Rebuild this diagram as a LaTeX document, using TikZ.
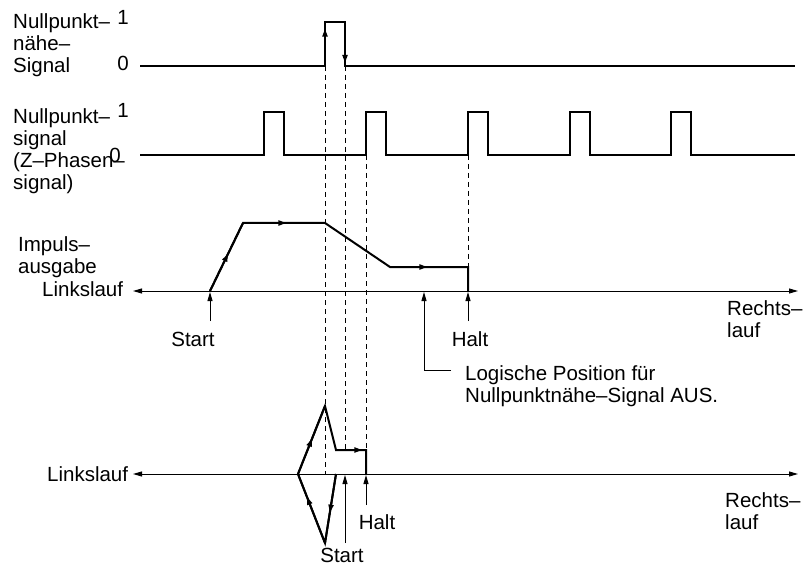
\documentclass[tikz,border=0pt]{standalone}
\usepackage{fontspec}
\setmainfont{Liberation Sans}
\usetikzlibrary{arrows.meta,decorations.markings}
\tikzset{
  sig/.style={line width=2pt},
  thin line/.style={line width=0.9pt},
  axisline/.style={thin line,{Triangle[length=9pt,width=5pt]}-{Triangle[length=9pt,width=5pt]}},
  guide/.style={thin line,dash pattern=on 5pt off 4pt},
  pointer/.style={thin line,-{Triangle[length=9pt,width=5pt]}},
  midarr/.style={decoration={markings,mark=at position #1 with {\arrow{Triangle[length=8pt,width=5pt]}}},postaction={decorate}},
  lbl/.style={font=\fontsize{20.5}{22}\selectfont,inner sep=0pt,align=left},
}
\begin{document}
\begin{tikzpicture}[x=1pt,y=-1pt]
\useasboundingbox (0,0) rectangle (804,567);
% Nullpunktnaehe-Signal
\node[lbl,anchor=north west] (nsLabel) at (13,13) {Nullpunkt--\\nähe--\\Signal};
\node[lbl,anchor=base] (nsOne) at (123,25) {1};
\node[lbl,anchor=base] (nsZero) at (123,71) {0};
\draw[sig] (140,66) -- (325,66) -- (325,22) -- (345,22) -- (345,66) -- (795,66);
\draw[sig,midarr=0.85] (325,66) -- (325,22);
\draw[sig,midarr=0.93] (345,22) -- (345,66);
% Z-Phasen-Signal
\node[lbl,anchor=north west] (zLabel) at (13,108) {Nullpunkt--\\signal\\(Z--Phasen--\\signal)};
\node[lbl,anchor=base] (zOne) at (123,118) {1};
\node[lbl,anchor=base] (zZero) at (115,163) {0};
\draw[sig] (140,155) \foreach \p in {264,366,468,570,671} { -- (\p,155) -- (\p,112) -- (\p+20,112) -- (\p+20,155) } -- (795,155);
% Impulsausgabe
\node[lbl,anchor=north west] (puLabel) at (18,236) {Impuls--\\ausgabe};
\coordinate (axL) at (133,291);
\coordinate (axR) at (798,291);
\draw[axisline] (axL) -- (axR);
\node[lbl,anchor=base west] (leftA) at (42,296) {Linkslauf};
\node[lbl,anchor=north west] (rightA) at (727,300) {Rechts--\\lauf};
\draw[sig] (210,291) -- (243,223) -- (325,223) -- (390,267) -- (468,267) -- (468,291);
\draw[sig,midarr=0.55] (210,291) -- (243,223);
\draw[sig,midarr=0.53] (243,223) -- (325,223);
\draw[sig,midarr=0.48] (390,267) -- (468,267);
\node[lbl,anchor=base] (startA) at (193,346) {Start};
\node[lbl,anchor=base] (haltA) at (470,346) {Halt};
\draw[pointer] (210,321) -- (210,292);
\draw[pointer] (468,321) -- (468,292);
\node[lbl,anchor=north west] (logPos) at (465,365) {Logische Position für\\Nullpunktnähe--Signal AUS.};
\draw[pointer] (451,370) -- (424,370) -- (424,292);
% Umkehrfahrt
\coordinate (bxL) at (133,474);
\coordinate (bxR) at (798,474);
\draw[axisline] (bxL) -- (bxR);
\node[lbl,anchor=base west] (leftB) at (47,481) {Linkslauf};
\node[lbl,anchor=north west] (rightB) at (725,492) {Rechts--\\lauf};
\draw[sig] (336,474) -- (325,543) -- (298,474) -- (325,406) -- (336,450) -- (366,450) -- (366,474);
\draw[sig,midarr=0.56] (336,474) -- (325,543);
\draw[sig,midarr=0.67] (325,543) -- (298,474);
\draw[sig,midarr=0.52] (298,474) -- (325,406);
\draw[sig,midarr=0.88] (336,450) -- (366,450);
\node[lbl,anchor=base] (startB) at (342,562) {Start};
\node[lbl,anchor=base] (haltB) at (377,529) {Halt};
\draw[pointer] (345,543) -- (345,475);
\draw[pointer] (366,505) -- (366,475);
% Hilfslinien
\draw[guide] (325,66) -- (325,474);
\draw[guide] (345,66) -- (345,450);
\draw[guide] (366,155) -- (366,450);
\draw[guide] (468,155) -- (468,267);
\end{tikzpicture}
\end{document}
